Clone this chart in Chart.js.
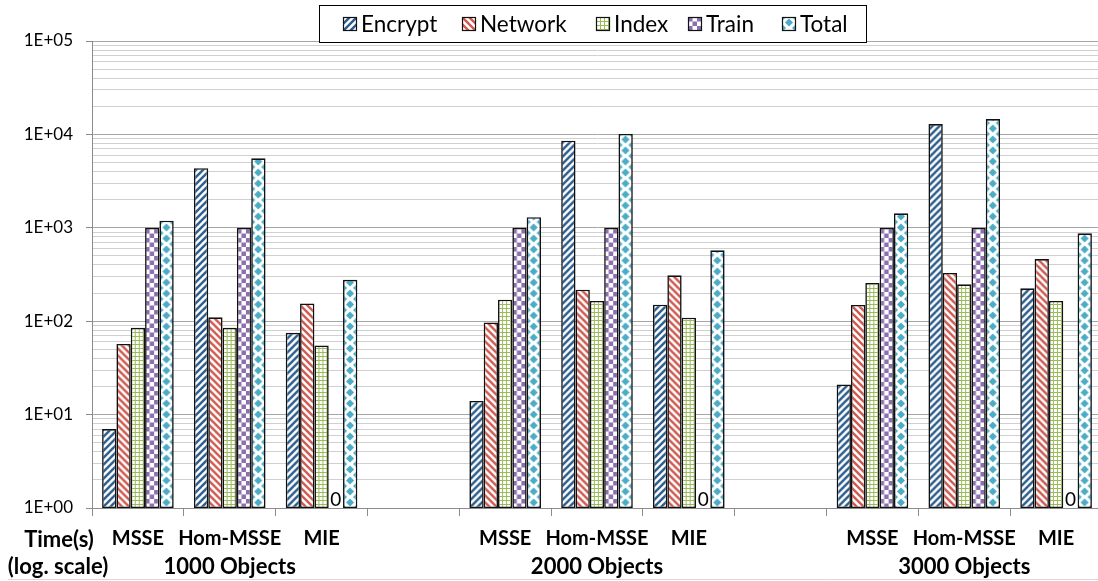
<!DOCTYPE html>
<html><head><meta charset="utf-8">
<script src="https://cdn.jsdelivr.net/npm/chart.js@4/dist/chart.umd.min.js"></script>
<style>html,body{margin:0;padding:0;overflow:hidden;background:#fff;width:1098px;height:581px}
#wrap{width:1102px;height:581px;position:relative}</style>
</head><body><div id="wrap"><canvas id="c" width="1102" height="581" style="width:1102px;height:581px"></canvas></div>
<script>
const categories = ['MSSE','Hom-MSSE','MIE','','MSSE','Hom-MSSE','MIE','','MSSE','Hom-MSSE','MIE'];
const groupLabels = ['1000 Objects','2000 Objects','3000 Objects'];
const groupCenterIndex = [1,5,9];
const seriesNames = ['Encrypt','Network','Index','Train','Total'];
const encrypt = [7,4340,75,null,14,8560,150,null,21,12900,225];
const network = [57,110,155,null,97,217,310,null,149,328,463];
const indexT  = [85,85,55,null,170,165,109,null,257,248,165];
const train   = [1000,1000,0,null,1000,1000,0,null,1000,1000,0];
const total   = [1190,5550,277,null,1300,10100,574,null,1430,14600,873];
const yTickLabels = ['1E+00','1E+01','1E+02','1E+03','1E+04','1E+05'];
const axisTitle = ['Time(s)','(log. scale)'];

const FONT = 'Lato, Carlito, Calibri, sans-serif';
const CAT_PCT = 0.78;

function tile(w,h,draw){const c=document.createElement('canvas');c.width=w;c.height=h;const g=c.getContext('2d');g.fillStyle='#fff';g.fillRect(0,0,w,h);draw(g,w,h);return c;}
const tiles = {
  up: tile(7,7,(g,s)=>{g.strokeStyle='#2B5C8C';g.lineWidth=2.4;g.beginPath();
      for(const o of [-s,0,s]){g.moveTo(o-1,s+1);g.lineTo(o+s+1,-1);} g.stroke();}),
  down: tile(7,7,(g,s)=>{g.strokeStyle='#CF5A50';g.lineWidth=2.4;g.beginPath();
      for(const o of [-s,0,s]){g.moveTo(o-1,-1);g.lineTo(o+s+1,s+1);} g.stroke();}),
  grid: tile(4,4,(g)=>{g.fillStyle='#9BBB59';g.fillRect(0,0,4,1);g.fillRect(0,0,1,4);}),
  check: tile(9,9,(g)=>{g.fillStyle='#8B6FAE';g.fillRect(0,0,4.5,4.5);g.fillRect(4.5,4.5,4.5,4.5);}),
  diamond: tile(14,11,(g,w,h)=>{g.fillStyle='#4BACC6';
      for(const [cx,cy] of [[7,5.5],[0,0],[14,0],[0,11],[14,11]]){g.beginPath();g.moveTo(cx-4,cy);g.lineTo(cx,cy-4);g.lineTo(cx+4,cy);g.lineTo(cx,cy+4);g.closePath();g.fill();}})
};
const tileKeys = ['up','down','grid','check','diamond'];

function patternAt(ctx,key,x,y){const p=ctx.createPattern(tiles[key],'repeat');p.setTransform(new DOMMatrix().translate(x,y));return p;}

function barFill(c){
  const chart=c.chart, xs=chart.scales.x, ys=chart.scales.y;
  const key=tileKeys[c.datasetIndex];
  if(!xs||!ys||c.dataIndex===undefined) return '#fff';
  const catW=xs.width/categories.length, bw=catW*CAT_PCT/5;
  const left=xs.getPixelForValue(c.dataIndex)+(c.datasetIndex-2.5)*bw;
  return patternAt(chart.ctx,key,left,ys.bottom);
}

const seriesData=[encrypt,network,indexT,train,total];
const datasets=seriesNames.map((n,i)=>({label:n,data:seriesData[i],backgroundColor:barFill,borderColor:'#111',borderWidth:1.6,borderSkipped:false}));

const decorations={
  id:'decorations',
  afterDraw(chart){
    const ctx=chart.ctx, xs=chart.scales.x, ys=chart.scales.y;
    ctx.save();
    // bottom rule
    ctx.strokeStyle='#d9d9d9';ctx.lineWidth=1;ctx.beginPath();ctx.moveTo(8,579.5);ctx.lineTo(1102,579.5);ctx.stroke();
    // zero labels for Train
    ctx.fillStyle='#000';ctx.font='19px '+FONT;ctx.textAlign='center';ctx.textBaseline='alphabetic';
    train.forEach((v,i)=>{ if(v===0){const catW=xs.width/categories.length,bw=catW*CAT_PCT/5;
      const x=xs.getPixelForValue(i)+(3-2.5+0.5)*bw; ctx.fillText('0',x,ys.bottom-2);} });
    // group labels
    ctx.font='bold 22px '+FONT;ctx.textBaseline='middle';
    groupLabels.forEach((g,k)=>{ctx.fillText(g,xs.getPixelForValue(groupCenterIndex[k]),567);});
    // axis titles
    ctx.fillText(axisTitle[0],59,540);
    ctx.fillText(axisTitle[1],58,567);
    // legend
    const L={x:319.5,y:5.5,w:547,h:37};
    ctx.fillStyle='#fff';ctx.fillRect(L.x,L.y,L.w,L.h);
    ctx.strokeStyle='#000';ctx.lineWidth=1;ctx.strokeRect(L.x,L.y,L.w,L.h);
    const sq=[343,462,596,688,782], tx=[361,480,614,706,800];
    ctx.font='22.5px '+FONT;ctx.textAlign='left';ctx.textBaseline='middle';
    seriesNames.forEach((n,i)=>{
      ctx.fillStyle=patternAt(ctx,tileKeys[i],sq[i],17);
      ctx.fillRect(sq[i],17,14,14);
      ctx.strokeStyle='#111';ctx.lineWidth=1.2;ctx.strokeRect(sq[i]+0.5,17.5,13,13);
      ctx.fillStyle='#000';ctx.fillText(n,tx[i],24.5);
    });
    ctx.restore();
  }
};

new Chart(document.getElementById('c'),{
  type:'bar',
  data:{labels:categories,datasets},
  options:{
    responsive:false,animation:false,
    layout:{padding:{top:41,left:0,right:0,bottom:0}},
    plugins:{legend:{display:false},tooltip:{enabled:false}},
    datasets:{bar:{categoryPercentage:CAT_PCT,barPercentage:1}},
    scales:{
      x:{type:'category',offset:true,
        grid:{offset:true,drawOnChartArea:false,drawTicks:true,tickLength:8,color:'#8c8c8c',lineWidth:1},
        border:{color:'#8c8c8c',width:1},
        ticks:{autoSkip:false,maxRotation:0,padding:11,color:'#000',font:{family:FONT,size:20,weight:'bold'}},
        afterFit(s){s.height=73;}
      },
      y:{type:'logarithmic',min:1,max:100000,
        afterBuildTicks(s){const t=[];for(let e=0;e<5;e++){for(let m=1;m<10;m++)t.push({value:m*Math.pow(10,e)});}t.push({value:100000});s.ticks=t;},
        grid:{color:(c)=>{const v=c.tick?c.tick.value:1;const l=Math.log10(v);return Math.abs(l-Math.round(l))<1e-9?'#a6a6a6':'#d0d0d0';},
              tickColor:(c)=>{const v=c.tick?c.tick.value:1;const l=Math.log10(v);return Math.abs(l-Math.round(l))<1e-9?'#8c8c8c':'rgba(0,0,0,0)';},
              tickLength:6,lineWidth:1},
        border:{color:'#8c8c8c',width:1},
        ticks:{autoSkip:false,padding:13,color:'#000',font:{family:FONT,size:17},
          callback:(v)=>{const l=Math.log10(v);if(Math.abs(l-Math.round(l))<1e-9){return yTickLabels[Math.round(l)];}return '';}},
        afterFit(s){s.width=92;}
      }
    }
  },
  plugins:[decorations]
});
</script></body></html>
